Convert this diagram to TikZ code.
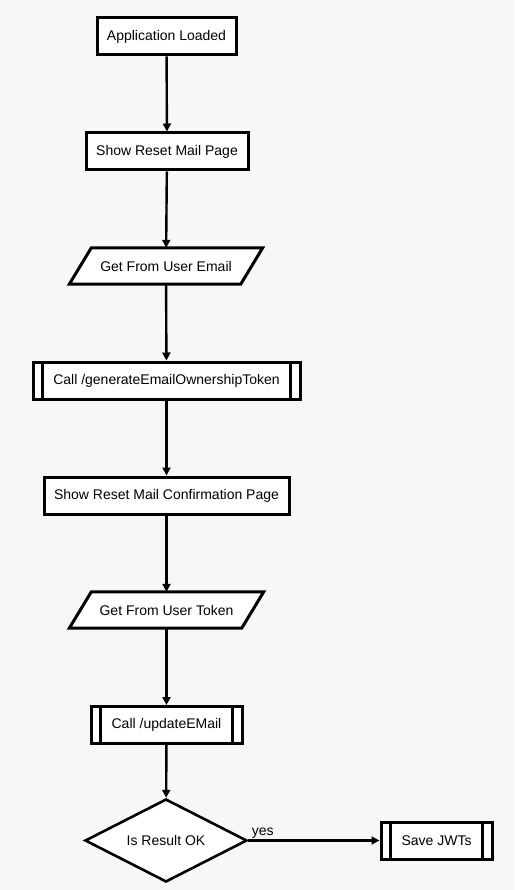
\documentclass[tikz,border=0pt]{standalone}
\usepackage{fontspec}
\setmainfont{Liberation Sans}
\usepackage{tikz}
\usetikzlibrary{shapes,arrows.meta,calc}

\definecolor{bgpaper}{RGB}{247,247,247}
\pgfdeclarelayer{background}
\pgfsetlayers{background,main}

\tikzset{
    stepbox/.style={draw, line width=3pt, fill=white, minimum height=37pt, inner sep=0pt},
    iobox/.style={minimum height=36pt, inner sep=0pt},
    subbox/.style={stepbox},
    decbox/.style={draw, diamond, line width=2.6pt, fill=white, minimum width=162pt, minimum height=83pt, inner sep=0pt, aspect=1.95},
    flow/.style={line width=2.4pt, -{Triangle[length=8pt,width=8pt]}},
    bar/.style={line width=2.2pt}
}

\begin{document}
\begin{tikzpicture}[x=1pt, y=-1pt, font=\fontsize{14}{16}\selectfont]
    \useasboundingbox (0,0) rectangle (514,890);

    % Steps
    \node [stepbox, minimum width=139pt] (loaded) at (166.5,36.5) {Application Loaded};
    \node [stepbox, minimum width=162pt] (resetpage) at (167,151.5) {Show Reset Mail Page};
    \node [iobox, minimum width=171pt] (getemail) at (166,266) {Get From User Email};
    \node [subbox, minimum width=267pt] (gentoken) at (166.5,380.5) {Call /generateEmailOwnershipToken};
    \node [stepbox, minimum width=245pt] (confirmpage) at (166.5,495.5) {Show Reset Mail Confirmation Page};
    \node [iobox, minimum width=172pt] (gettoken) at (166.5,610) {Get From User Token};
    \node [subbox, minimum width=151pt] (update) at (166.5,725) {Call /updateEMail};
    \node [decbox] (resultok) at (166,840.5) {Is Result OK};
    \node [subbox, minimum width=111pt] (savejwt) at (436.5,840.5) {Save JWTs};

    % Paper and input shapes
    \begin{pgfonlayer}{background}
        \fill [bgpaper] (0,0) rectangle (514,890);
        \foreach \n in {getemail,gettoken}
            \draw [line width=3pt, fill=white]
                ([xshift=11pt]\n.north west) -- ([xshift=11pt]\n.north east)
                -- ([xshift=-11pt]\n.south east) -- ([xshift=-11pt]\n.south west) -- cycle;
    \end{pgfonlayer}

    % Subroutine bars
    \foreach \n in {gentoken,update,savejwt}
    {
        \draw [bar] ([xshift=11pt]\n.north west) -- ([xshift=11pt]\n.south west);
        \draw [bar] ([xshift=-11pt]\n.north east) -- ([xshift=-11pt]\n.south east);
    }

    % Arrows
    \draw [flow] (loaded) -- (resetpage);
    \draw [flow] (resetpage) -- (getemail);
    \draw [flow] (getemail) -- (gentoken);
    \draw [flow] (gentoken) -- (confirmpage);
    \draw [flow] (confirmpage) -- (gettoken);
    \draw [flow] (gettoken) -- (update);
    \draw [flow] (update) -- (resultok);
    \draw [flow] (resultok) -- node [above, pos=0.11, inner sep=1pt] (yes) {yes} (savejwt);
\end{tikzpicture}
\end{document}
